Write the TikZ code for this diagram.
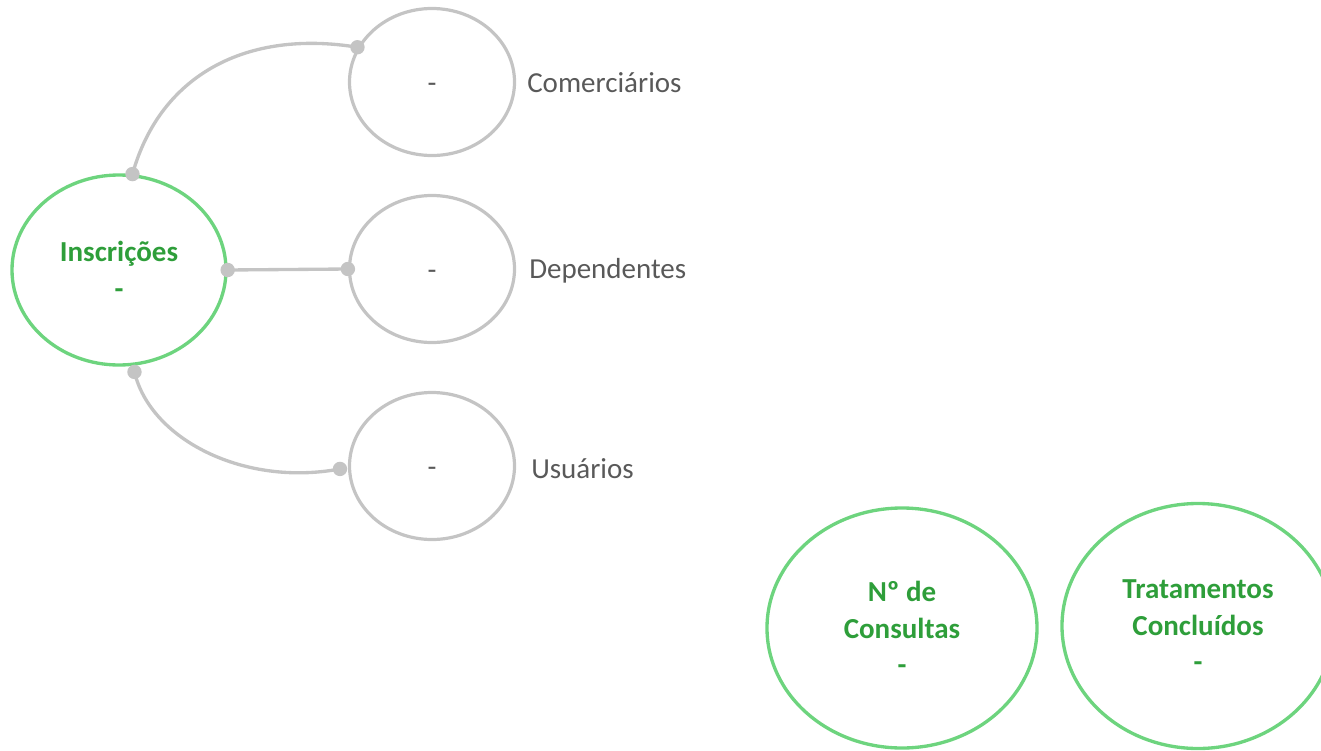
\documentclass[tikz,border=0pt]{standalone}
\usepackage{fontspec}
\setmainfont{Carlito}
\usetikzlibrary{shapes.geometric}
\definecolor{gstroke}{HTML}{6DD47E}
\definecolor{gtext}{HTML}{2E9E3A}
\definecolor{lgray}{HTML}{C4C4C4}
\definecolor{tgray}{HTML}{595959}
\tikzset{
  greencirc/.style={ellipse, draw=gstroke, line width=2.5pt, inner sep=0pt, align=center,
    text=gtext, font=\fontsize{21.75}{27.4}\selectfont\bfseries},
  graycirc/.style={ellipse, draw=lgray, line width=2.4pt, inner sep=0pt,
    text=tgray, font=\fontsize{21.75}{27.4}\selectfont},
  lbl/.style={anchor=west, inner sep=0pt, text=tgray, font=\fontsize{21.75}{27.4}\selectfont},
  conn/.style={draw=lgray, line width=2.5pt},
  enddot/.style={fill=lgray, draw=none}
}
\newcommand{\lowdash}{\smash{\raisebox{-7.5pt}{-}}}
\begin{document}
\begin{tikzpicture}[x=0.75pt,y=-0.75pt]
\useasboundingbox (0,0) rectangle (1321,750);
% main nodes
\node[greencirc, minimum width=160.5pt, minimum height=142.5pt] (ins) at (119,270) {Inscrições\\-};
\node[graycirc, minimum width=123.75pt, minimum height=110.25pt] (com) at (432,82) {\lowdash};
\node[graycirc, minimum width=123.75pt, minimum height=110.25pt] (dep) at (432,269) {\lowdash};
\node[graycirc, minimum width=123.75pt, minimum height=110.25pt] (usu) at (432,466) {\lowdash};
\node[lbl] (lcom) at (527,83) {Comerciários};
\node[lbl] (ldep) at (529,271) {Dependentes};
\node[lbl] (lusu) at (531,469) {Usuários};
\node[greencirc, minimum width=202.5pt, minimum height=180pt] (nc) at (902,628) {Nº de\\Consultas\\-};
\node[greencirc, minimum width=204pt, minimum height=183.75pt] (tc) at (1198,626) {Tratamentos\\Concluídos\\-};
% connectors
\draw[conn] (ins.82) .. controls +(28,-100) and +(-110,-18) .. (com.155);
\draw[conn] (ins.east) -- (dep.west);
\draw[conn] ([shift={(2,6)}]ins.278) .. controls +(16,68) and +(-95,18) .. ([xshift=-6]usu.182);
% end dots
\foreach \p in {ins.82, com.155, ins.east, dep.west}
  \fill[enddot] (\p) circle (5.4pt);
\fill[enddot] ([shift={(2,6)}]ins.278) circle (5.4pt);
\fill[enddot] ([xshift=-6]usu.182) circle (5.4pt);
\end{tikzpicture}
\end{document}
